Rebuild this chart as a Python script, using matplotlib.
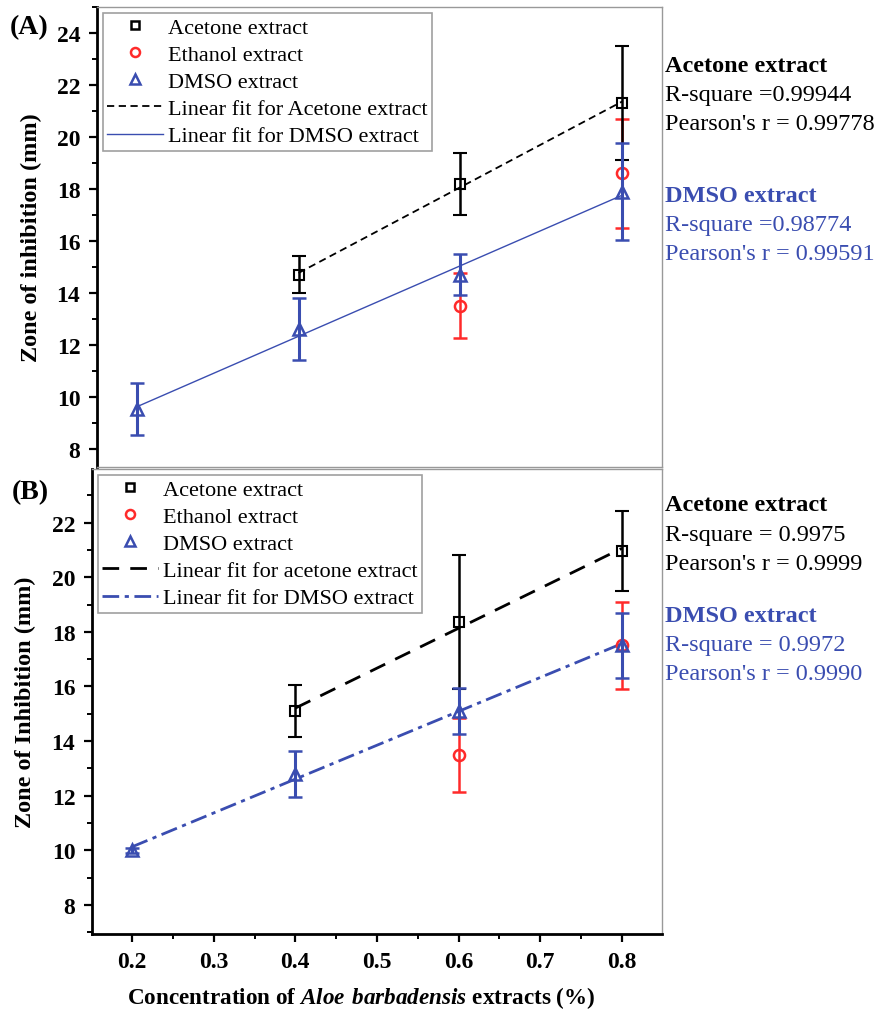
import numpy as np
import matplotlib
matplotlib.use("Agg")
import matplotlib.pyplot as plt
from matplotlib.ticker import MultipleLocator
from matplotlib.lines import Line2D

plt.rcParams['font.family'] = ['Liberation Serif', 'DejaVu Serif']
plt.rcParams['mathtext.fontset'] = 'custom'
plt.rcParams['mathtext.rm'] = 'Liberation Serif'
plt.rcParams['mathtext.bfit'] = 'Liberation Serif:italic:bold'

BLUE = '#3a4db0'
RED = '#ff2a2a'

# panel A data
conc_ace = [0.4, 0.6, 0.8]
conc_eth = [0.6, 0.8]
conc_dmso = [0.2, 0.4, 0.6, 0.8]

a_ace = [14.7, 18.2, 21.3]
a_ace_err = [0.7, 1.2, 2.2]
a_eth = [13.5, 18.6]
a_eth_err = [1.25, 2.1]
a_dmso = [9.55, 12.6, 14.7, 17.9]
a_dmso_err = [1.0, 1.2, 0.8, 1.85]

# panel B data
b_ace = [15.1, 18.35, 20.95]
b_ace_err = [0.95, 2.45, 1.47]
b_eth = [13.5, 17.5]
b_eth_err = [1.35, 1.6]
b_dmso = [10.0, 12.8, 15.1, 17.5]
b_dmso_err = [0.1, 0.83, 0.85, 1.2]

stats_a = [("Acetone extract", "R-square =0.99944", "Pearson's r = 0.99778"),
           ("DMSO extract", "R-square =0.98774", "Pearson's r = 0.99591")]
stats_b = [("Acetone extract", "R-square = 0.9975", "Pearson's r = 0.9999"),
           ("DMSO extract", "R-square = 0.9972", "Pearson's r = 0.9990")]

W, H = 885, 1012
fig = plt.figure(figsize=(W / 100, H / 100), dpi=100)
axA = fig.add_axes([97 / W, 1 - 468 / H, (662 - 97) / W, (468 - 8) / H])
axB = fig.add_axes([92 / W, 1 - 935 / H, (662 - 92) / W, (935 - 470) / H])


def panel(ax, ace, ace_err, eth, eth_err, dmso, dmso_err, fit_styles, fit_names, ylabel):
    ax.errorbar(conc_ace, ace, yerr=ace_err, fmt='s', color='black', mfc='none',
                ms=7, mew=1.5, capsize=5, elinewidth=1.8, capthick=1.8, zorder=4)
    ax.errorbar(conc_eth, eth, yerr=eth_err, fmt='o', color=RED, mfc='none',
                ms=8, mew=1.8, capsize=5, elinewidth=1.8, capthick=1.8, zorder=3)
    ax.errorbar(conc_dmso, dmso, yerr=dmso_err, fmt='^', color=BLUE, mfc='none',
                ms=9, mew=1.8, capsize=5, elinewidth=2.2, capthick=2.2, zorder=5)
    k, b = np.polyfit(conc_ace, ace, 1)
    xs = np.array([conc_ace[0], conc_ace[-1]])
    ax.plot(xs, k * xs + b, color='black', **fit_styles[0])
    k, b = np.polyfit(conc_dmso, dmso, 1)
    xs = np.array([conc_dmso[0], conc_dmso[-1]])
    ax.plot(xs, k * xs + b, color=BLUE, **fit_styles[1])

    ax.set_xlim(0.151, 0.849)
    ax.yaxis.set_major_locator(MultipleLocator(2))
    ax.yaxis.set_minor_locator(MultipleLocator(1))
    ax.xaxis.set_major_locator(MultipleLocator(0.1))
    ax.xaxis.set_minor_locator(MultipleLocator(0.05))
    ax.tick_params(axis='both', which='major', direction='out', length=6, width=1.6,
                   labelsize=17, pad=6, right=False, top=False)
    ax.tick_params(axis='both', which='minor', direction='out', length=3.5, width=1.4,
                   right=False, top=False)
    for lab in ax.get_yticklabels() + ax.get_xticklabels():
        lab.set_fontweight('bold')
    for s in ('top', 'right'):
        ax.spines[s].set_color('#999999')
        ax.spines[s].set_linewidth(1.0)
    ax.spines['left'].set_linewidth(2.0)
    ax.spines['bottom'].set_linewidth(2.0)
    ax.set_ylabel(ylabel, fontsize=17.5, fontweight='bold')

    handles = [
        Line2D([], [], ls='none', marker='s', color='black', mfc='none', ms=6, mew=1.8),
        Line2D([], [], ls='none', marker='o', color=RED, mfc='none', ms=6.5, mew=1.8),
        Line2D([], [], ls='none', marker='^', color=BLUE, mfc='none', ms=7, mew=1.8),
        Line2D([], [], color='black', **fit_styles[0]),
        Line2D([], [], color=BLUE, **fit_styles[1]),
    ]
    labels = ['Acetone extract', 'Ethanol extract', 'DMSO extract'] + fit_names
    leg = ax.legend(handles, labels, loc='upper left', fontsize=16, frameon=True,
                    fancybox=False, edgecolor='#888888', handlelength=2.5,
                    handletextpad=0.25, borderaxespad=0.25, labelspacing=0.3,
                    borderpad=0.2)
    leg.get_frame().set_linewidth(1.2)


panel(axA, a_ace, a_ace_err, a_eth, a_eth_err, a_dmso, a_dmso_err,
      [dict(ls=(0, (4, 2.5)), lw=1.3), dict(ls='-', lw=1.0)],
      ['Linear fit for Acetone extract', 'Linear fit for DMSO extract'],
      'Zone of inhibition (mm)')
axA.set_ylim(7.3, 25.0)
axA.spines['bottom'].set_color('#999999')
axA.spines['bottom'].set_linewidth(1.0)
axA.tick_params(axis='x', which='both', bottom=False, labelbottom=False)

panel(axB, b_ace, b_ace_err, b_eth, b_eth_err, b_dmso, b_dmso_err,
      [dict(ls=(0, (6, 4)), lw=2.0), dict(ls=(0, (6, 2, 1.5, 2)), lw=2.0)],
      ['Linear fit for acetone extract', 'Linear fit for DMSO extract'],
      'Zone of Inhibition (mm)')
axB.set_ylim(6.94, 23.96)
axB.set_yticks([8, 10, 12, 14, 16, 18, 20, 22])
axB.set_xlabel(r"Concentration of $\mathbfit{Aloe\ barbadensis}$ extracts (%)",
               fontsize=16.7, fontweight='bold')
axB.xaxis.set_label_coords(0.472, -0.108)

axA.yaxis.set_label_coords(-0.097, 0.5)
axB.yaxis.set_label_coords(-0.098, 0.5)

fig.text(10 / W, 1 - 28 / H, '(A)', fontsize=20, fontweight='bold', va='center')
fig.text(12 / W, 1 - 493 / H, '(B)', fontsize=20, fontweight='bold', va='center')


def stats(rows, ys, step):
    for i, (title, r2, pr) in enumerate(rows):
        col = 'black' if i == 0 else BLUE
        y = ys[i]
        fig.text(665 / W, 1 - y / H, title, fontsize=17.5, fontweight='bold', color=col, va='center')
        fig.text(665 / W, 1 - (y + step) / H, r2, fontsize=17.5, color=col, va='center')
        fig.text(665 / W, 1 - (y + 2 * step) / H, pr, fontsize=17.5, color=col, va='center')


stats(stats_a, [67, 197], 29)
stats(stats_b, [506, 616], 29.5)

fig.savefig('out.png', dpi=100)
